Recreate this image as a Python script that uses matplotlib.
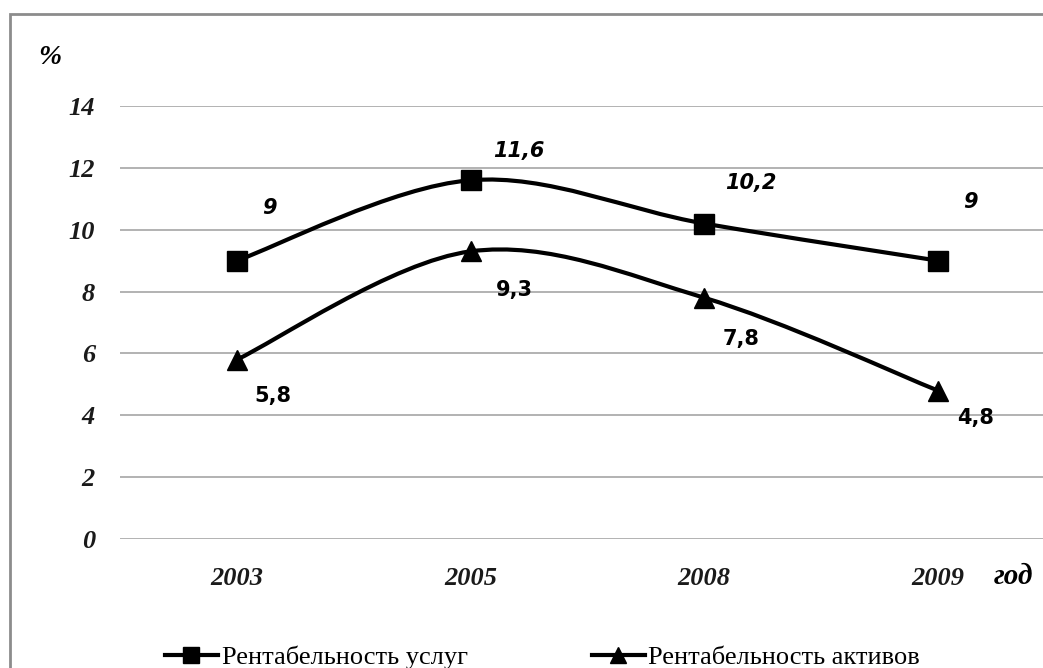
import matplotlib.pyplot as plt
from matplotlib.path import Path
from matplotlib.patches import PathPatch, Rectangle
from matplotlib.lines import Line2D

# data
years = ['2003', '2005', '2008', '2009']
services = [9, 11.6, 10.2, 9]
assets = [5.8, 9.3, 7.8, 4.8]
services_labels = ['9', '11,6', '10,2', '9']
assets_labels = ['5,8', '9,3', '7,8', '4,8']
yticks = [0, 2, 4, 6, 8, 10, 12, 14]


def smooth_path(xs, ys):
    # Excel-like smoothed line: cubic Bezier through the points
    pts = list(zip(xs, ys))
    verts = [pts[0]]
    codes = [Path.MOVETO]
    n = len(pts)
    for i in range(n - 1):
        p0 = pts[i - 1] if i > 0 else pts[i]
        p1 = pts[i]
        p2 = pts[i + 1]
        p3 = pts[i + 2] if i + 2 < n else pts[i + 1]
        c1 = (p1[0] + (p2[0] - p0[0]) / 6, p1[1] + (p2[1] - p0[1]) / 6)
        c2 = (p2[0] - (p3[0] - p1[0]) / 6, p2[1] - (p3[1] - p1[1]) / 6)
        verts += [c1, c2, p2]
        codes += [Path.CURVE4] * 3
    return Path(verts, codes)


fig = plt.figure(figsize=(10.43, 6.68), dpi=100)
W, H = 1043, 668
ax = fig.add_axes([120 / W, 1 - 539 / H, (W - 120) / W, (539 - 106) / H])

x = list(range(len(years)))
ax.set_xlim(-0.5, 3.45)
ax.set_ylim(0, 14)
ax.set_yticks(yticks)
ax.yaxis.grid(True, color='#a6a6a6', linewidth=1.2)
ax.set_axisbelow(True)
for s in ax.spines.values():
    s.set_visible(False)
ax.tick_params(length=0, labelsize=19, labelcolor='#1a1a1a')
ax.tick_params(axis='y', pad=18)
ax.tick_params(axis='x', pad=20)
ax.set_xticks(x)
ax.set_xticklabels(years)
for lab in ax.get_xticklabels() + ax.get_yticklabels():
    lab.set_fontfamily('Liberation Serif')
    lab.set_fontstyle('italic')
    lab.set_fontweight('bold')

for ys in (services, assets):
    ax.add_patch(PathPatch(smooth_path(x, ys), facecolor='none', edgecolor='black',
                           linewidth=3, transform=ax.transData, zorder=3))
ax.plot(x, services, linestyle='none', marker='s', markersize=15, color='black', zorder=4)
ax.plot(x, assets, linestyle='none', marker='^', markersize=14, color='black', zorder=4)

# data labels
s_off = [(33, 53), (48, 29), (47, 41), (33, 59)]
for xi, yi, t, (dx, dy) in zip(x, services, services_labels, s_off):
    ax.annotate(t, (xi, yi), xytext=(dx, dy), textcoords='offset pixels',
                ha='center', va='center', fontsize=15, fontweight='bold',
                fontstyle='italic', family='DejaVu Sans')
a_off = [(36, -36), (44, -39), (37, -41), (38, -27)]
for xi, yi, t, (dx, dy) in zip(x, assets, assets_labels, a_off):
    ax.annotate(t, (xi, yi), xytext=(dx, dy), textcoords='offset pixels',
                ha='center', va='center', fontsize=15, fontweight='bold',
                family='DejaVu Sans')

fig.text(50 / W, 1 - 57 / H, '%', ha='center', va='center', fontsize=20,
         fontstyle='italic', fontweight='bold', family='Liberation Serif')
fig.text(1013 / W, 1 - 577 / H, 'год', ha='center', va='center', fontsize=21,
         fontstyle='italic', fontweight='bold', family='Liberation Serif')

handles = [Line2D([], [], color='black', linewidth=3, marker='s', markersize=11),
           Line2D([], [], color='black', linewidth=3, marker='^', markersize=11)]
fig.legend(handles, ['Рентабельность услуг', 'Рентабельность активов'],
           loc='center left', bbox_to_anchor=(165 / W, 1 - 657 / H), ncol=2, frameon=False,
           prop={'family': 'Liberation Serif', 'size': 19}, borderpad=0, borderaxespad=0,
           handlelength=2.0, handletextpad=0.15, columnspacing=4.7)

# outer frame (only top and left edges are visible in the crop)
fig.add_artist(Rectangle((10 / W, -0.2), 1.2, 1.2 - 14 / H, transform=fig.transFigure,
                         facecolor='none', edgecolor='#8c8c8c', linewidth=2))

fig.savefig('out.png', dpi=100)
